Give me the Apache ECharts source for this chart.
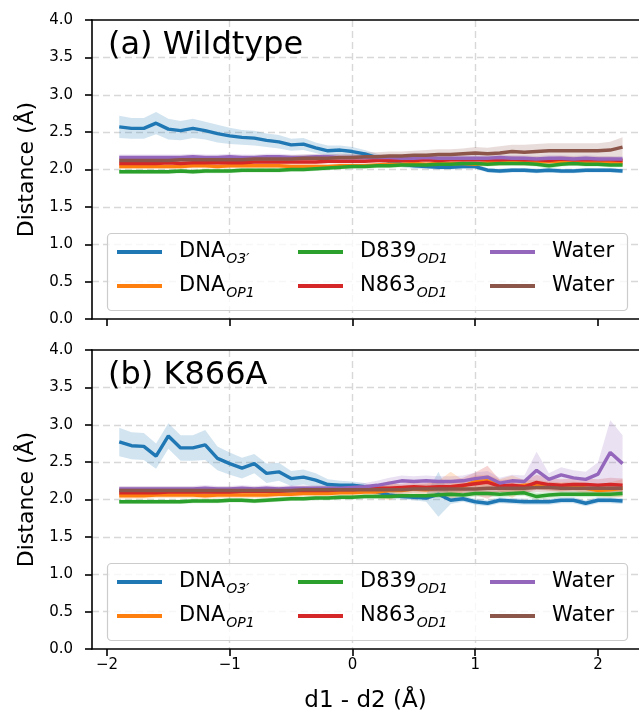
<!DOCTYPE html>
<html>
<head>
<meta charset="utf-8">
<script src="https://cdn.jsdelivr.net/npm/echarts@6/dist/echarts.min.js"></script>
<style>
  html, body { margin: 0; padding: 0; background: #ffffff; }
  #chart { width: 639px; height: 717px; }
</style>
</head>
<body>
<div id="chart"></div>
<script>
// Reaction coordinate d1 - d2 (Å)
const xValues = [-1.9, -1.8, -1.7, -1.6, -1.5, -1.4, -1.3, -1.2, -1.1, -1.0,
  -0.9, -0.8, -0.7, -0.6, -0.5, -0.4, -0.3, -0.2, -0.1, 0.0,
  0.1, 0.2, 0.3, 0.4, 0.5, 0.6, 0.7, 0.8, 0.9, 1.0,
  1.1, 1.2, 1.3, 1.4, 1.5, 1.6, 1.7, 1.8, 1.9, 2.0, 2.1, 2.2];

const xTicks = [-2, -1, 0, 1, 2];

const seriesNames = ['DNA_O3', 'DNA_OP1', 'D839_OD1', 'N863_OD1', 'Water_1', 'Water_2'];
const panelTitles = ['(a) Wildtype', '(b) K866A'];

// (a) Wildtype: mean distances
const wtO3 = [2.57, 2.55, 2.55, 2.62, 2.54, 2.52, 2.55, 2.52, 2.48, 2.45,
  2.43, 2.42, 2.39, 2.37, 2.33, 2.34, 2.29, 2.25, 2.26, 2.24,
  2.21, 2.16, 2.11, 2.07, 2.05, 2.04, 2.03, 2.03, 2.04, 2.04,
  1.99, 1.98, 1.99, 1.99, 1.98, 1.99, 1.98, 1.98, 1.99, 1.99, 1.99, 1.98];
const wtOP1 = [2.04, 2.04, 2.04, 2.04, 2.04, 2.04, 2.05, 2.05, 2.04, 2.05,
  2.05, 2.05, 2.05, 2.05, 2.04, 2.04, 2.04, 2.04, 2.05, 2.05,
  2.05, 2.06, 2.07, 2.07, 2.08, 2.07, 2.08, 2.08, 2.08, 2.07,
  2.09, 2.09, 2.10, 2.09, 2.10, 2.11, 2.10, 2.11, 2.09, 2.10, 2.09, 2.09];
const wtD839 = [1.97, 1.97, 1.97, 1.97, 1.97, 1.98, 1.97, 1.98, 1.98, 1.98,
  1.99, 1.99, 1.99, 1.99, 2.00, 2.00, 2.01, 2.02, 2.03, 2.04,
  2.04, 2.05, 2.05, 2.06, 2.06, 2.06, 2.07, 2.07, 2.08, 2.08,
  2.07, 2.08, 2.08, 2.08, 2.07, 2.05, 2.07, 2.08, 2.07, 2.07, 2.06, 2.06];
const wtN863 = [2.08, 2.08, 2.08, 2.08, 2.09, 2.08, 2.09, 2.09, 2.09, 2.09,
  2.09, 2.10, 2.10, 2.10, 2.10, 2.10, 2.10, 2.11, 2.11, 2.11,
  2.11, 2.12, 2.12, 2.12, 2.12, 2.13, 2.12, 2.13, 2.13, 2.13,
  2.13, 2.13, 2.14, 2.13, 2.13, 2.12, 2.14, 2.13, 2.13, 2.13, 2.13, 2.12];
const wtWaterA = [2.16, 2.16, 2.16, 2.16, 2.16, 2.16, 2.17, 2.16, 2.16, 2.17,
  2.16, 2.16, 2.17, 2.17, 2.16, 2.16, 2.17, 2.17, 2.16, 2.16,
  2.16, 2.16, 2.16, 2.15, 2.15, 2.16, 2.15, 2.15, 2.15, 2.15,
  2.15, 2.16, 2.15, 2.15, 2.14, 2.15, 2.15, 2.14, 2.15, 2.14, 2.14, 2.14];
const wtWaterB = [2.12, 2.12, 2.12, 2.12, 2.12, 2.13, 2.13, 2.13, 2.13, 2.13,
  2.13, 2.14, 2.14, 2.14, 2.14, 2.15, 2.15, 2.15, 2.16, 2.16,
  2.17, 2.17, 2.18, 2.18, 2.19, 2.19, 2.20, 2.20, 2.21, 2.22,
  2.21, 2.22, 2.24, 2.23, 2.24, 2.25, 2.25, 2.25, 2.25, 2.25, 2.26, 2.30];

// (a) Wildtype: confidence half-widths
const wtO3Err = [0.15, 0.14, 0.14, 0.15, 0.14, 0.13, 0.13, 0.12, 0.12, 0.11,
  0.10, 0.10, 0.09, 0.09, 0.08, 0.08, 0.07, 0.07, 0.06, 0.06,
  0.05, 0.05, 0.04, 0.04, 0.04, 0.03, 0.03, 0.03, 0.03, 0.03,
  0.03, 0.03, 0.03, 0.03, 0.03, 0.03, 0.03, 0.03, 0.03, 0.03, 0.03, 0.03];
const wtOP1Err = [0.03, 0.03, 0.03, 0.03, 0.03, 0.03, 0.03, 0.03, 0.03, 0.03,
  0.03, 0.03, 0.03, 0.03, 0.03, 0.03, 0.03, 0.03, 0.03, 0.03,
  0.03, 0.03, 0.03, 0.03, 0.03, 0.03, 0.03, 0.03, 0.03, 0.04,
  0.04, 0.04, 0.04, 0.04, 0.04, 0.04, 0.04, 0.04, 0.04, 0.04, 0.04, 0.04];
const wtD839Err = [0.03, 0.03, 0.03, 0.03, 0.03, 0.03, 0.03, 0.03, 0.03, 0.03,
  0.03, 0.03, 0.03, 0.03, 0.03, 0.03, 0.03, 0.03, 0.03, 0.03,
  0.03, 0.03, 0.03, 0.03, 0.03, 0.03, 0.03, 0.03, 0.03, 0.03,
  0.03, 0.03, 0.03, 0.03, 0.03, 0.04, 0.03, 0.03, 0.03, 0.03, 0.03, 0.03];
const wtN863Err = [0.03, 0.03, 0.03, 0.03, 0.03, 0.03, 0.03, 0.03, 0.03, 0.03,
  0.03, 0.03, 0.03, 0.03, 0.03, 0.03, 0.03, 0.03, 0.03, 0.03,
  0.03, 0.03, 0.03, 0.03, 0.03, 0.03, 0.03, 0.03, 0.03, 0.03,
  0.03, 0.03, 0.04, 0.04, 0.04, 0.04, 0.04, 0.04, 0.04, 0.04, 0.04, 0.04];
const wtWaterAErr = [0.04, 0.04, 0.04, 0.04, 0.04, 0.04, 0.04, 0.04, 0.04, 0.04,
  0.04, 0.04, 0.04, 0.04, 0.04, 0.04, 0.04, 0.04, 0.04, 0.04,
  0.04, 0.04, 0.04, 0.04, 0.04, 0.04, 0.04, 0.04, 0.04, 0.04,
  0.04, 0.04, 0.04, 0.04, 0.04, 0.04, 0.04, 0.04, 0.04, 0.04, 0.04, 0.04];
const wtWaterBErr = [0.04, 0.04, 0.04, 0.04, 0.04, 0.04, 0.04, 0.04, 0.04, 0.04,
  0.04, 0.04, 0.05, 0.05, 0.05, 0.05, 0.05, 0.05, 0.05, 0.05,
  0.06, 0.06, 0.06, 0.06, 0.06, 0.07, 0.07, 0.07, 0.07, 0.08,
  0.08, 0.09, 0.09, 0.10, 0.10, 0.10, 0.10, 0.10, 0.10, 0.10, 0.11, 0.13];

// (b) K866A: mean distances
const mutO3 = [2.77, 2.72, 2.71, 2.58, 2.85, 2.69, 2.69, 2.73, 2.55, 2.48,
  2.42, 2.48, 2.35, 2.37, 2.28, 2.30, 2.26, 2.20, 2.19, 2.19,
  2.17, 2.10, 2.06, 2.04, 2.03, 2.02, 2.07, 1.99, 2.01, 1.97,
  1.95, 1.99, 1.98, 1.97, 1.97, 1.97, 1.99, 1.99, 1.95, 1.99, 1.99, 1.98];
const mutOP1 = [2.05, 2.05, 2.05, 2.06, 2.06, 2.06, 2.06, 2.05, 2.06, 2.06,
  2.06, 2.06, 2.06, 2.07, 2.07, 2.08, 2.08, 2.08, 2.09, 2.09,
  2.10, 2.10, 2.12, 2.12, 2.14, 2.13, 2.15, 2.17, 2.18, 2.24,
  2.25, 2.19, 2.17, 2.19, 2.20, 2.18, 2.17, 2.18, 2.15, 2.12, 2.13, 2.15];
const mutD839 = [1.97, 1.97, 1.97, 1.97, 1.97, 1.97, 1.98, 1.98, 1.98, 1.99,
  1.99, 1.98, 1.99, 2.00, 2.01, 2.01, 2.02, 2.02, 2.03, 2.03,
  2.04, 2.04, 2.04, 2.05, 2.05, 2.05, 2.06, 2.07, 2.06, 2.08,
  2.08, 2.07, 2.08, 2.09, 2.04, 2.06, 2.07, 2.07, 2.07, 2.07, 2.07, 2.08];
const mutN863 = [2.09, 2.09, 2.09, 2.09, 2.10, 2.10, 2.10, 2.10, 2.10, 2.10,
  2.11, 2.11, 2.11, 2.11, 2.12, 2.12, 2.12, 2.12, 2.13, 2.13,
  2.14, 2.15, 2.15, 2.16, 2.17, 2.16, 2.17, 2.17, 2.19, 2.21,
  2.23, 2.18, 2.19, 2.17, 2.23, 2.20, 2.19, 2.20, 2.20, 2.19, 2.20, 2.19];
const mutWaterA = [2.14, 2.14, 2.14, 2.14, 2.14, 2.14, 2.14, 2.15, 2.14, 2.14,
  2.15, 2.14, 2.15, 2.14, 2.15, 2.15, 2.15, 2.15, 2.15, 2.16,
  2.17, 2.19, 2.22, 2.25, 2.24, 2.25, 2.24, 2.24, 2.25, 2.28,
  2.30, 2.22, 2.25, 2.24, 2.39, 2.27, 2.33, 2.29, 2.27, 2.34, 2.63, 2.48];
const mutWaterB = [2.12, 2.12, 2.12, 2.12, 2.12, 2.12, 2.12, 2.12, 2.12, 2.12,
  2.12, 2.12, 2.12, 2.12, 2.12, 2.13, 2.13, 2.13, 2.13, 2.13,
  2.13, 2.13, 2.13, 2.13, 2.14, 2.14, 2.14, 2.14, 2.14, 2.14,
  2.15, 2.15, 2.15, 2.15, 2.16, 2.16, 2.15, 2.15, 2.15, 2.15, 2.15, 2.15];

// (b) K866A: confidence half-widths
const mutO3Err = [0.19, 0.18, 0.18, 0.17, 0.17, 0.17, 0.17, 0.20, 0.16, 0.15,
  0.14, 0.13, 0.13, 0.12, 0.10, 0.10, 0.09, 0.07, 0.06, 0.05,
  0.05, 0.05, 0.05, 0.04, 0.04, 0.05, 0.30, 0.05, 0.04, 0.04,
  0.04, 0.04, 0.04, 0.04, 0.04, 0.04, 0.04, 0.04, 0.04, 0.04, 0.04, 0.04];
const mutOP1Err = [0.04, 0.04, 0.04, 0.04, 0.04, 0.04, 0.04, 0.04, 0.04, 0.04,
  0.04, 0.04, 0.04, 0.04, 0.04, 0.04, 0.04, 0.04, 0.04, 0.04,
  0.05, 0.08, 0.13, 0.06, 0.06, 0.08, 0.10, 0.20, 0.08, 0.08,
  0.08, 0.08, 0.15, 0.07, 0.06, 0.06, 0.06, 0.06, 0.07, 0.08, 0.10, 0.12];
const mutD839Err = [0.03, 0.03, 0.03, 0.03, 0.03, 0.03, 0.03, 0.03, 0.03, 0.03,
  0.03, 0.03, 0.03, 0.03, 0.03, 0.03, 0.03, 0.03, 0.03, 0.03,
  0.03, 0.03, 0.03, 0.03, 0.03, 0.03, 0.04, 0.04, 0.04, 0.04,
  0.04, 0.04, 0.04, 0.04, 0.05, 0.04, 0.04, 0.04, 0.04, 0.04, 0.04, 0.04];
const mutN863Err = [0.04, 0.04, 0.04, 0.04, 0.04, 0.04, 0.04, 0.04, 0.04, 0.04,
  0.04, 0.04, 0.04, 0.04, 0.04, 0.04, 0.04, 0.04, 0.04, 0.04,
  0.04, 0.05, 0.05, 0.05, 0.06, 0.06, 0.07, 0.08, 0.10, 0.15,
  0.22, 0.08, 0.08, 0.08, 0.10, 0.08, 0.08, 0.08, 0.08, 0.08, 0.09, 0.09];
const mutWaterAErr = [0.04, 0.04, 0.04, 0.04, 0.04, 0.04, 0.04, 0.04, 0.04, 0.04,
  0.04, 0.04, 0.04, 0.04, 0.04, 0.04, 0.04, 0.04, 0.04, 0.05,
  0.05, 0.06, 0.07, 0.07, 0.07, 0.07, 0.07, 0.07, 0.07, 0.08,
  0.08, 0.07, 0.08, 0.08, 0.25, 0.08, 0.10, 0.10, 0.10, 0.16, 0.43, 0.38];
const mutWaterBErr = [0.05, 0.05, 0.05, 0.05, 0.05, 0.05, 0.05, 0.05, 0.05, 0.05,
  0.05, 0.05, 0.05, 0.05, 0.05, 0.05, 0.05, 0.05, 0.05, 0.05,
  0.05, 0.05, 0.05, 0.05, 0.05, 0.05, 0.05, 0.05, 0.05, 0.05,
  0.05, 0.05, 0.05, 0.05, 0.06, 0.06, 0.06, 0.06, 0.06, 0.06, 0.06, 0.06];

const panelMeans = [
  [wtO3, wtOP1, wtD839, wtN863, wtWaterA, wtWaterB],
  [mutO3, mutOP1, mutD839, mutN863, mutWaterA, mutWaterB]
];
const panelErrs = [
  [wtO3Err, wtOP1Err, wtD839Err, wtN863Err, wtWaterAErr, wtWaterBErr],
  [mutO3Err, mutOP1Err, mutD839Err, mutN863Err, mutWaterAErr, mutWaterBErr]
];

// ---- styling / layout ----
const FONT = 'DejaVu Sans';
const colors = ['#1f77b4', '#ff7f0e', '#2ca02c', '#d62728', '#9467bd', '#8c564b'];
const legendLabels = {
  DNA_O3: '{n|DNA}{s|O3\u2032}',
  DNA_OP1: '{n|DNA}{s|OP1}',
  D839_OD1: '{n|D839}{s|OD1}',
  N863_OD1: '{n|N863}{s|OD1}',
  Water_1: '{n|Water}{s|\u200b}',
  Water_2: '{n|Water}{s|\u200b}'
};
const panelTop = [20, 350];
// the axes run past the right edge of the canvas; x range chosen so it ends at the edge
const plotLeft = 92, plotHeight = 299, plotWidth = 547;
const xMin = -2.122, xMax = 2.334;

const minusFmt = v => (v < 0 ? '\u2212' + Math.abs(v) : String(v));

const grids = [], xAxes = [], topAxes = [], yAxes = [], series = [], legends = [], graphics = [];
const gridLine = { show: true, showMinLine: false, showMaxLine: false,
  lineStyle: { color: '#d8d8d8', width: 1.4, type: [7, 4] } };
const spine = { show: true, onZero: false, lineStyle: { color: '#000', width: 1.6 } };

// Shaded confidence band drawn as one polygon through the axis scales
function bandRenderer(rows, color) {
  return function (params, api) {
    if (params.dataIndex !== 0) return null;
    const upper = rows.map(r => api.coord([r[0], r[2]]));
    const lower = rows.map(r => api.coord([r[0], r[1]])).reverse();
    return {
      type: 'polygon',
      shape: { points: upper.concat(lower) },
      style: { fill: color, opacity: 0.2 }
    };
  };
}

panelTop.forEach((top, p) => {
  grids.push({ left: plotLeft, top: top, width: plotWidth, height: plotHeight });
  xAxes.push({
    gridIndex: p, type: 'value', min: xMin, max: xMax,
    axisLine: spine,
    axisTick: { show: true, length: 7, customValues: xTicks, lineStyle: { color: '#000', width: 1.6 } },
    axisLabel: { show: p === 1, customValues: xTicks, formatter: minusFmt, margin: 9,
      fontFamily: FONT, fontSize: 15, color: '#000' },
    splitLine: gridLine,
    name: p === 1 ? 'd1 - d2 (Å)' : '', nameLocation: 'middle', nameGap: 41,
    nameTextStyle: { fontFamily: FONT, fontSize: 23, color: '#000' }
  });
  topAxes.push({
    gridIndex: p, type: 'value', position: 'top', min: xMin, max: xMax,
    axisLine: spine, axisTick: { show: false }, axisLabel: { show: false }, splitLine: { show: false }
  });
  yAxes.push({
    gridIndex: p, type: 'value', min: 0, max: 4, interval: 0.5,
    axisLine: spine,
    axisTick: { show: true, length: 7, lineStyle: { color: '#000', width: 1.6 } },
    axisLabel: { formatter: v => v.toFixed(1), margin: 19, fontFamily: FONT, fontSize: 15, color: '#000' },
    splitLine: gridLine,
    name: 'Distance (Å)', nameLocation: 'middle', nameGap: 53,
    nameTextStyle: { fontFamily: FONT, fontSize: 22, color: '#000' }
  });

  seriesNames.forEach((name, k) => {
    const m = panelMeans[p][k], e = panelErrs[p][k];
    const rows = xValues.map((x, i) => [x, +(m[i] - e[i]).toFixed(3), +(m[i] + e[i]).toFixed(3)]);
    series.push({
      type: 'custom', name: name + '-band', xAxisIndex: p, yAxisIndex: p,
      data: rows, encode: { x: 0, y: [1, 2] },
      renderItem: bandRenderer(rows, colors[k]), silent: true, z: 2
    });
  });
  seriesNames.forEach((name, k) => {
    series.push({
      type: 'line', name: name, xAxisIndex: p, yAxisIndex: p,
      data: xValues.map((x, i) => [x, panelMeans[p][k][i]]),
      symbol: 'none', showSymbol: false,
      lineStyle: { color: colors[k], width: 3.4 }, itemStyle: { color: colors[k] }, z: 3
    });
  });

  // legend frame
  graphics.push({
    type: 'rect', z: 10, silent: true,
    shape: { x: 107.5, y: top + 213.5, width: 520, height: 77, r: 4 },
    style: { fill: 'rgba(255,255,255,0.8)', stroke: '#cccccc', lineWidth: 1.2 }
  });
  // panel title
  graphics.push({
    type: 'text', z: 10, left: 108, top: top + 10,
    style: { text: panelTitles[p], font: '32px "DejaVu Sans"', fill: '#000' }
  });
  // three legend columns
  [[0, 1], [2, 3], [4, 5]].forEach((pair, c) => {
    legends.push({
      orient: 'vertical', left: [117, 298, 490][c], top: top + 218, z: 11,
      itemGap: 6, itemWidth: 45, itemHeight: 4, icon: 'rect',
      padding: 0, selectedMode: false,
      data: pair.map(i => seriesNames[i]),
      formatter: n => legendLabels[n],
      textStyle: {
        padding: [0, 0, 0, 12], lineHeight: 28,
        rich: {
          n: { fontFamily: FONT, fontSize: 21, color: '#000', lineHeight: 28, verticalAlign: 'middle' },
          s: { fontFamily: FONT, fontSize: 14, fontStyle: 'italic', color: '#000',
               lineHeight: 14, padding: [14, 0, 0, 1], verticalAlign: 'top' }
        }
      }
    });
  });
});

const chart = echarts.init(document.getElementById('chart'), null, { renderer: 'canvas' });
chart.setOption({
  animation: false,
  backgroundColor: '#ffffff',
  grid: grids,
  xAxis: xAxes.concat(topAxes),
  yAxis: yAxes,
  legend: legends,
  graphic: graphics,
  series: series
});
</script>
</body>
</html>
